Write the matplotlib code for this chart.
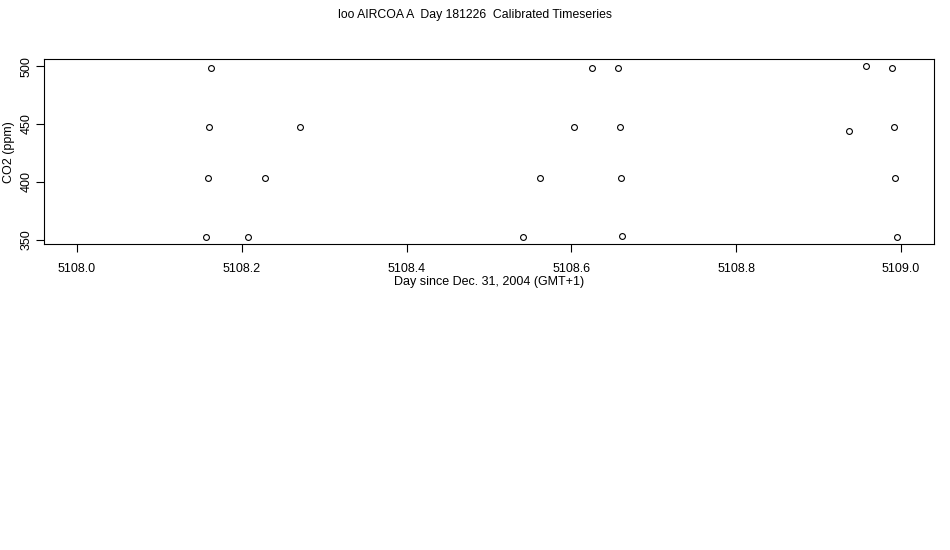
#!/usr/bin/env python3
# Calibrated CO2 timeseries, R-style base-graphics look.

import matplotlib
matplotlib.use('Agg')
import matplotlib.pyplot as plt

# days since Dec. 31, 2004 and calibrated CO2 (ppm)
day = [5108.1625, 5108.1600, 5108.2706, 5108.1589, 5108.2280, 5108.1564, 5108.2074,
       5108.6244, 5108.6570, 5108.6033, 5108.6584, 5108.5620, 5108.6604, 5108.5410, 5108.6616,
       5108.9580, 5108.9894, 5108.9370, 5108.9918, 5108.9930, 5108.9955]
co2 = [498.2, 447.6, 447.6, 403.0, 403.0, 352.3, 352.3,
       498.2, 498.2, 447.6, 447.6, 403.0, 403.0, 352.3, 353.4,
       500.0, 498.2, 444.2, 447.6, 403.0, 352.3]

x_range = (5108.0, 5109.0)
x_ticks = [5108.0, 5108.2, 5108.4, 5108.6, 5108.8, 5109.0]
y_ticks = [350, 400, 450, 500]
title = 'loo AIRCOA A  Day 181226  Calibrated Timeseries'

plt.rcParams['font.family'] = ['Liberation Sans', 'DejaVu Sans']

fig = plt.figure(figsize=(9.5, 5.5), dpi=100)
W, H = 950, 550
ax = fig.add_axes([44 / W, 1 - 244 / H, 890 / W, 184.7 / H])

ax.plot(day, co2, linestyle='none', marker='o', markersize=4.2,
        markerfacecolor='none', markeredgecolor='black', markeredgewidth=0.8)

# R pads the axis range by 4% on each side
pad = 0.04 * (x_range[1] - x_range[0])
ax.set_xlim(x_range[0] - pad, x_range[1] + pad)
ypad = 0.04 * (max(co2) - min(co2))
ax.set_ylim(min(co2) - ypad, max(co2) + ypad)

ax.set_xticks(x_ticks)
ax.set_xticklabels([f'{t:.1f}' for t in x_ticks])
ax.set_yticks(y_ticks)
ax.set_yticklabels([str(t) for t in y_ticks], rotation=90, va='center')

ax.tick_params(axis='both', direction='out', length=5.5, width=0.8,
               labelsize=9, color='black')
ax.tick_params(axis='x', pad=8)
ax.tick_params(axis='y', pad=2.5)
for s in ax.spines.values():
    s.set_linewidth(0.8)

ax.set_xlabel('Day since Dec. 31, 2004 (GMT+1)', fontsize=9, labelpad=1)
ax.set_ylabel('CO2 (ppm)', fontsize=9, labelpad=4)

fig.text(0.5, 1 - 15 / H, title, ha='center', va='center', fontsize=8.8)

fig.savefig('out.png', dpi=100)
